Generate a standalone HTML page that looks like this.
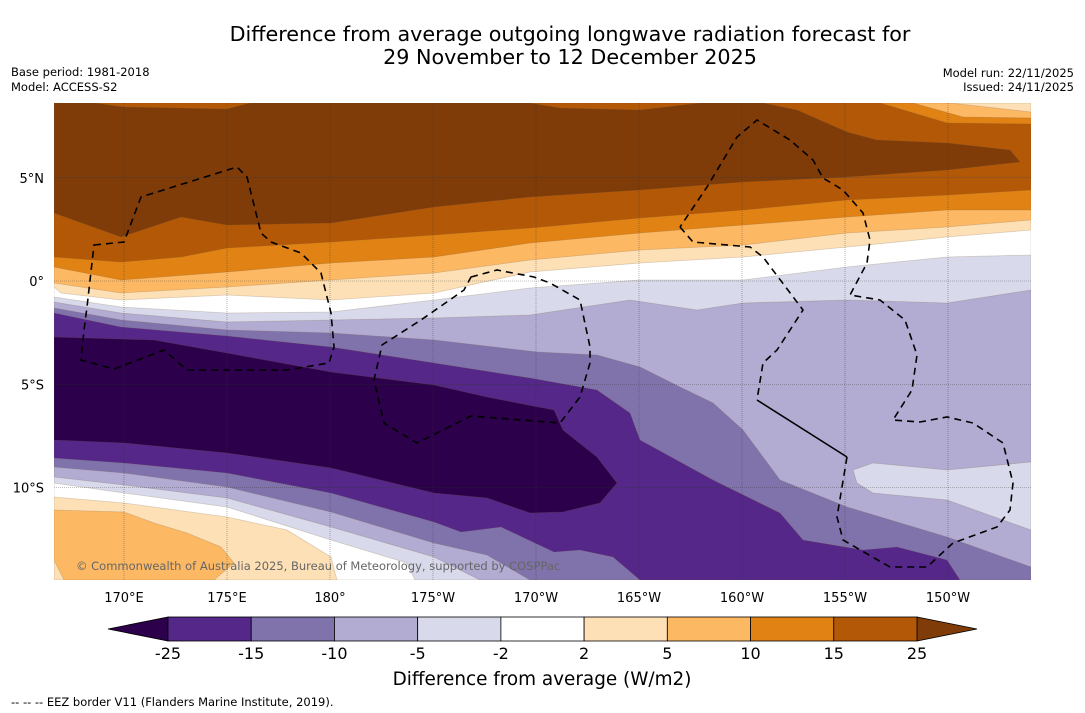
<!DOCTYPE html>
<html><head><meta charset="utf-8"><style>
html,body{margin:0;padding:0;background:#fff;}
body{width:1085px;height:713px;overflow:hidden;font-family:"DejaVu Sans","Liberation Sans",sans-serif;}
svg{display:block;font-family:"DejaVu Sans","Liberation Sans",sans-serif;}
</style></head><body>
<svg id="root" width="1085" height="713" viewBox="0 0 1085 713">
<text x="570" y="41" font-size="20.7" text-anchor="middle" fill="#000">Difference from average outgoing longwave radiation forecast for</text>
<text x="570" y="64" font-size="20.7" text-anchor="middle" fill="#000">29 November to 12 December 2025</text>
<text x="11" y="76" font-size="11.5">Base period: 1981-2018</text>
<text x="11" y="91" font-size="11.5">Model: ACCESS-S2</text>
<text x="1074" y="77" font-size="11.5" text-anchor="end">Model run: 22/11/2025</text>
<text x="1074" y="91" font-size="11.5" text-anchor="end">Issued: 24/11/2025</text>
<defs><clipPath id="mc"><rect x="54" y="103" width="977" height="477"/></clipPath></defs>
<g id="map" clip-path="url(#mc)"></g>
<g id="grid"></g>
<g id="eez" fill="none" stroke="#000" stroke-width="1.6" stroke-dasharray="7,5"></g>
<text x="76" y="570" font-size="11.5" fill="#666">© Commonwealth of Australia 2025, Bureau of Meteorology, supported by COSPPac</text>
<g id="xt"></g>
<g id="yt"></g>
<g id="cbar"></g>
<text x="542" y="685" font-size="18.4" text-anchor="middle">Difference from average (W/m2)</text>
<text x="11" y="706" font-size="11.5">--  --  -- EEZ border V11 (Flanders Marine Institute, 2019).</text>
</svg>
<script>
const NS="http://www.w3.org/2000/svg";
const lonLabels=["170°E","175°E","180°","175°W","170°W","165°W","160°W","155°W","150°W"];
const lonValues=[170,175,180,185,190,195,200,205,210];
const latLabels=["5°N","0°","5°S","10°S"];
const latValues=[5,0,-5,-10];
const levelLabels=["-25","-15","-10","-5","-2","2","5","10","15","25"];
const levelColors=["#542788","#8073ac","#b2abd2","#d8daeb","#ffffff","#fee0b6","#fdb863","#e08214","#b35806"];
const extLow="#2d004b", extHigh="#7f3b08";
function xLon(l){return 124+(l-170)*20.6;}
function yLat(a){return 281-a*20.65;}
const map=document.getElementById('map');
const X0=54,X1=1031,Y0=103,Y1=580;
function poly(pts,fill,name){
  const p=document.createElementNS(NS,'polygon');
  p.setAttribute('points',pts.map(q=>q.join(',')).join(' '));
  p.setAttribute('fill',fill);
  p.setAttribute('stroke','rgba(120,90,60,0.25)');
  p.setAttribute('stroke-width','0.8');
  
  
  map.appendChild(p);
}
function above(c){return [[X0,Y0],[X1,Y0]].concat(c.slice().reverse());}
function below(c){return c.concat([[X1,Y1],[X0,Y1]]);}
poly([[X0,Y0],[X1,Y0],[X1,Y1],[X0,Y1]],"#b2abd2","band-minus10-minus5");
const D5=[[54,302],[121,313],[227,322],[331,320],[434,318],[530,315],[630,300],[697,310],[743,303],[847,300],[947,303],[1031,290]];
const D2=[[54,297],[121,307],[227,313],[331,312],[434,300],[530,288],[640,280],[743,280],[847,267],[947,257],[1031,255]];
const C2=[[54,287],[61,293],[121,300],[227,295],[331,300],[434,293],[530,272],[640,263],[743,257],[847,247],[947,237],[1031,230]];
const C5=[[54,283],[121,293],[227,287],[331,280],[434,273],[530,260],[640,250],[743,245],[847,233],[947,227],[1031,220]];
const C10=[[54,267],[121,280],[227,272],[331,263],[434,257],[530,243],[640,233],[743,225],[847,217],[947,210],[1031,210]];
const C15=[[54,257],[121,262],[181,257],[227,248],[331,242],[434,235],[530,228],[640,218],[743,210],[847,200],[947,195],[1031,190]];
poly(above(D5),"#d8daeb","band-minus5-minus2-north");
poly(above(D2),"#ffffff","band-neutral-north");
poly(above(C2),"#fee0b6","band-2-5");
poly(above(C5),"#fdb863","band-5-10");
poly(above(C10),"#e08214","band-10-15");
poly(above(C15),"#b35806","band-15-25");
poly([[54,103],[95,103],[124,107],[227,109],[250,103],[530,103],[560,108],[640,110],[700,103],[763,103],[797,110],[847,132],[877,140],[947,143],[1010,150],[1020,162],[947,170],[847,177],[743,182],[640,190],[530,197],[434,207],[331,223],[227,225],[181,217],[121,237],[54,213]],extHigh,"band-above-25");
poly([[880,103],[947,123],[1031,124],[1031,103]],"#e08214","band-10-15-ne");
poly([[913,103],[963,117],[1031,118],[1031,103]],"#fdb863","band-5-10-ne");
poly([[950,103],[1031,112],[1031,103]],"#fee0b6","band-2-5-ne");
const D10=[[54,308],[121,320],[227,330],[331,333],[434,340],[537,352],[597,355],[640,367],[680,387],[713,403],[743,430],[780,480],[847,507],[947,537],[1031,567]];
poly(below(D10),"#8073ac","band-minus15-minus10");
const D15=[[54,313],[121,327],[227,336],[331,347],[434,363],[530,378],[597,390],[630,413],[640,440],[713,480],[780,513],[803,540],[863,550],[897,547],[947,560],[960,580]];
poly(D15.concat([[54,580]]),"#542788","band-minus25-minus15");
poly([[54,458],[124,463],[227,473],[331,493],[434,522],[461,532],[501,527],[554,552],[580,550],[613,557],[640,580],[54,580]],"#8073ac","band-minus15-minus10-south");
poly([[54,467],[124,473],[227,487],[331,512],[434,543],[487,555],[530,580],[54,580]],"#b2abd2","band-minus10-minus5-south");
poly([[54,477],[124,485],[227,498],[331,527],[434,557],[480,580],[54,580]],"#d8daeb","band-minus5-minus2-south");
poly([[54,483],[124,493],[227,507],[331,540],[407,563],[415,580],[54,580]],"#ffffff","band-neutral-south");
poly([[54,497],[124,503],[227,517],[287,530],[331,557],[337,580],[54,580]],"#fee0b6","band-2-5-south");
poly([[54,510],[124,512],[154,523],[187,533],[221,547],[234,563],[214,580],[64,580],[54,560]],"#fdb863","band-5-10-south");
poly([[853,470],[873,463],[947,470],[1031,462],[1031,530],[947,500],[873,493],[857,483]],"#d8daeb","band-minus5-minus2-se");
poly([[54,337],[154,340],[227,353],[331,372],[434,385],[487,397],[554,410],[563,430],[597,457],[617,483],[600,503],[563,512],[530,513],[487,498],[434,493],[331,468],[227,453],[124,443],[54,440]],extLow,"band-below-minus25");
const grid=document.getElementById('grid');
lonValues.forEach((v,i)=>{
  const x=xLon(v);
  const l=document.createElementNS(NS,'line');
  l.setAttribute('x1',x);l.setAttribute('x2',x);l.setAttribute('y1',Y0);l.setAttribute('y2',Y1);
  l.setAttribute('stroke','#333');l.setAttribute('stroke-width','0.6');l.setAttribute('stroke-dasharray','1,1');l.setAttribute('opacity','0.6');
  
  
  grid.appendChild(l);
  const t=document.createElementNS(NS,'text');
  t.setAttribute('x',x);t.setAttribute('y',602);t.setAttribute('font-size','13');t.setAttribute('text-anchor','middle');
  t.textContent=lonLabels[i];
  
  
  document.getElementById('xt').appendChild(t);
});
latValues.forEach((v,i)=>{
  const y=yLat(v);
  const l=document.createElementNS(NS,'line');
  l.setAttribute('x1',X0);l.setAttribute('x2',X1);l.setAttribute('y1',y);l.setAttribute('y2',y);
  l.setAttribute('stroke','#333');l.setAttribute('stroke-width','0.6');l.setAttribute('stroke-dasharray','1,1');l.setAttribute('opacity','0.6');
  
  
  grid.appendChild(l);
  const t=document.createElementNS(NS,'text');
  t.setAttribute('x',44);t.setAttribute('y',y+5);t.setAttribute('font-size','13');t.setAttribute('text-anchor','end');
  t.textContent=latLabels[i];
  
  
  document.getElementById('yt').appendChild(t);
});
const eez=document.getElementById('eez');
function path(d,name,solid){
  const p=document.createElementNS(NS,'path');
  p.setAttribute('d',d);
  if(solid)p.setAttribute('stroke-dasharray','none');
  
  
  eez.appendChild(p);
}
path("M94,245 L124,242 L141,197 L237,167 L247,177 L261,233 L271,242 L301,253 L321,273 L331,313 L334,347 L329,363 L287,370 L187,370 L164,350 L114,369 L81,360 L84,330 L87,307 Z","eez-border-west");
path("M471,277 L497,270 L534,277 L550,283 L580,300 L590,347 L590,363 L580,397 L560,423 L471,416 L417,443 L384,423 L374,380 L382,345 L421,320 L464,290 Z","eez-border-central");
path("M680,227 L693,242 L750,247 L763,257 L803,310 L777,350 L763,363 L757,400","eez-border-east-a");
path("M757,400 L847,457","eez-border-east-solid",true);
path("M847,457 L837,517 L843,540 L890,567 L927,567 L953,543 L997,527 L1010,510 L1013,483 L1003,443 L973,423 L947,417 L920,422 L893,420 L912,390 L917,355 L905,320 L880,300 L850,295 L867,263 L870,240 L863,213 L843,190 L823,178 L813,160 L790,140 L757,120 L737,137 L707,187 L680,227","eez-border-east-b");
const cb=document.getElementById('cbar');
const cbX0=168,cbX1=917,cbY=617,cbH=24,seg=(cbX1-cbX0)/levelColors.length;
function cpoly(pts,fill,name){
  const p=document.createElementNS(NS,'polygon');
  p.setAttribute('points',pts.map(q=>q.join(',')).join(' '));
  p.setAttribute('fill',fill);p.setAttribute('stroke','#000');p.setAttribute('stroke-width','0.8');
  
  
  cb.appendChild(p);
}
cpoly([[108,cbY+cbH/2],[cbX0,cbY],[cbX0,cbY+cbH]],extLow,"colorbar-extend-low");
cpoly([[977,cbY+cbH/2],[cbX1,cbY],[cbX1,cbY+cbH]],extHigh,"colorbar-extend-high");
levelColors.forEach((c,i)=>{
  const r=document.createElementNS(NS,'rect');
  r.setAttribute('x',cbX0+i*seg);r.setAttribute('y',cbY);r.setAttribute('width',seg);r.setAttribute('height',cbH);
  r.setAttribute('fill',c);r.setAttribute('stroke','#000');r.setAttribute('stroke-width','0.8');
  
  
  cb.appendChild(r);
});
levelLabels.forEach((s,i)=>{
  const t=document.createElementNS(NS,'text');
  t.setAttribute('x',cbX0+i*seg);t.setAttribute('y',659);t.setAttribute('font-size','16');t.setAttribute('text-anchor','middle');
  t.textContent=s;
  
  
  cb.appendChild(t);
});
</script>
</body></html>
